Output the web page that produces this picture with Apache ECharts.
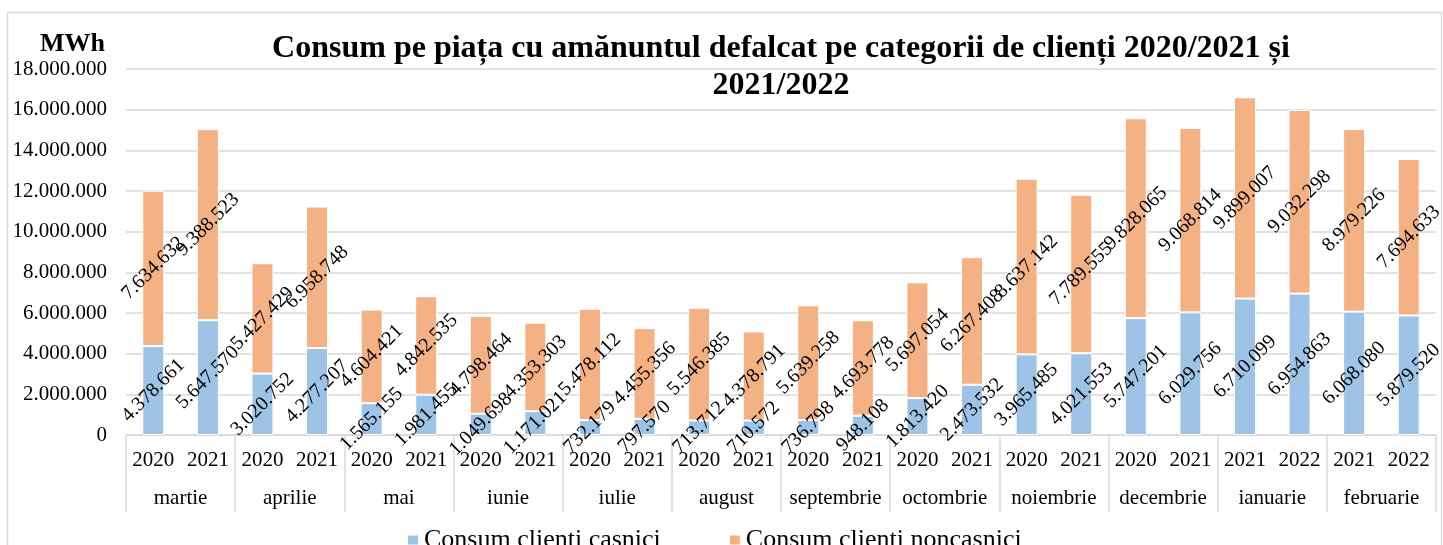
<!DOCTYPE html>
<html>
<head>
<meta charset="utf-8">
<script src="https://cdn.jsdelivr.net/npm/echarts@6/dist/echarts.min.js"></script>
<style>
  html, body { margin: 0; padding: 0; background: #fff; }
  #main { width: 1443px; height: 545px; }
</style>
</head>
<body>
<div id="main"></div>
<script>
// luni si anii afisati pe axa x
const months = ['martie', 'aprilie', 'mai', 'iunie', 'iulie', 'august',
  'septembrie', 'octombrie', 'noiembrie', 'decembrie', 'ianuarie', 'februarie'];
const years = [
  '2020', '2021', '2020', '2021', '2020', '2021', '2020', '2021',
  '2020', '2021', '2020', '2021', '2020', '2021', '2020', '2021',
  '2020', '2021', '2020', '2021', '2021', '2022', '2021', '2022'
];
// consum clienti casnici (MWh)
const casnici = [
  4378661, 5647570, 3020752, 4277207, 1565155, 1981455, 1049698, 1171021,
  732179, 797570, 713712, 710572, 736798, 948108, 1813420, 2473532,
  3965485, 4021553, 5747201, 6029756, 6710099, 6954863, 6068080, 5879520
];
// consum clienti noncasnici (MWh)
const noncasnici = [
  7634632, 9388523, 5427429, 6958748, 4604421, 4842535, 4798464, 4353303,
  5478112, 4455356, 5546385, 4378791, 5639258, 4693778, 5697054, 6267408,
  8637142, 7789555, 9828065, 9068814, 9899007, 9032298, 8979226, 7694633
];
const yTicks = { min: 0, max: 18000000, interval: 2000000 };

const font = "'Liberation Serif', 'Times New Roman', serif";
const fmt = (v) => String(v).replace(/\B(?=(\d{3})+(?!\d))/g, '.');
// chei unice pe categorie (luna + an), afisam doar anul
const cats = years.map((y, i) => months[Math.floor(i / 2)] + ' ' + y);

const chart = echarts.init(document.getElementById('main'));

const barLabel = {
  show: true,
  position: 'inside',
  rotate: 45,
  color: '#000',
  fontSize: 20,
  fontFamily: font,
  formatter: (p) => fmt(p.value),
};

chart.setOption({
  animation: false,
  textStyle: { fontFamily: font },
  graphic: [
    {
      type: 'rect',
      shape: { x: 7.5, y: 12.5, width: 1434, height: 560 },
      style: { fill: 'none', stroke: '#d9d9d9', lineWidth: 1.5 },
      silent: true,
    },
  ],
  title: {
    text: 'Consum pe piața cu amănuntul defalcat pe categorii de clienți 2020/2021 și\n2021/2022',
    left: 776,
    top: 25,
    textAlign: 'center',
    textStyle: {
      fontFamily: font,
      fontSize: 32,
      fontWeight: 'bold',
      color: '#000',
      lineHeight: 37,
    },
  },
  legend: {
    left: 401,
    top: 522,
    itemWidth: 12,
    itemHeight: 11,
    itemGap: 67,
    icon: 'rect',
    textStyle: { fontFamily: font, fontSize: 26, color: '#000' },
    data: ['Consum clienti casnici', 'Consum clienti noncasnici'],
  },
  grid: { left: 126, right: 7, top: 69, bottom: 110 },
  xAxis: [
    {
      type: 'category',
      data: cats,
      axisLine: { lineStyle: { color: '#d9d9d9', width: 1.5 } },
      axisTick: { show: false },
      axisLabel: {
        interval: 0,
        margin: 15,
        fontSize: 21,
        color: '#000',
        fontFamily: font,
        formatter: (v) => v.split(' ')[1],
      },
    },
    {
      type: 'category',
      position: 'bottom',
      data: months,
      axisLine: { show: false },
      axisTick: { show: true, length: 77, lineStyle: { color: '#d9d9d9', width: 1.5 } },
      axisLabel: { interval: 0, margin: 53, fontSize: 21, color: '#000', fontFamily: font },
    },
  ],
  yAxis: {
    type: 'value',
    min: yTicks.min,
    max: yTicks.max,
    interval: yTicks.interval,
    name: 'MWh',
    nameLocation: 'end',
    nameGap: 12,
    nameTextStyle: {
      fontFamily: font,
      fontSize: 26,
      fontWeight: 'bold',
      color: '#000',
      align: 'right',
      padding: [0, 21, 0, 0],
    },
    axisLine: { show: false },
    axisTick: { show: false },
    splitLine: { lineStyle: { color: '#d9d9d9', width: 1.5 } },
    axisLabel: { fontSize: 21, color: '#000', fontFamily: font, margin: 19, formatter: fmt },
  },
  series: [
    {
      name: 'Consum clienti casnici',
      type: 'bar',
      stack: 'total',
      barWidth: 22,
      data: casnici,
      itemStyle: { color: '#9dc3e6', borderColor: '#fff', borderWidth: 1 },
      label: barLabel,
    },
    {
      name: 'Consum clienti noncasnici',
      type: 'bar',
      stack: 'total',
      barWidth: 22,
      data: noncasnici,
      itemStyle: { color: '#f4b183', borderColor: '#fff', borderWidth: 1 },
      label: barLabel,
    },
  ],
});
</script>
</body>
</html>
